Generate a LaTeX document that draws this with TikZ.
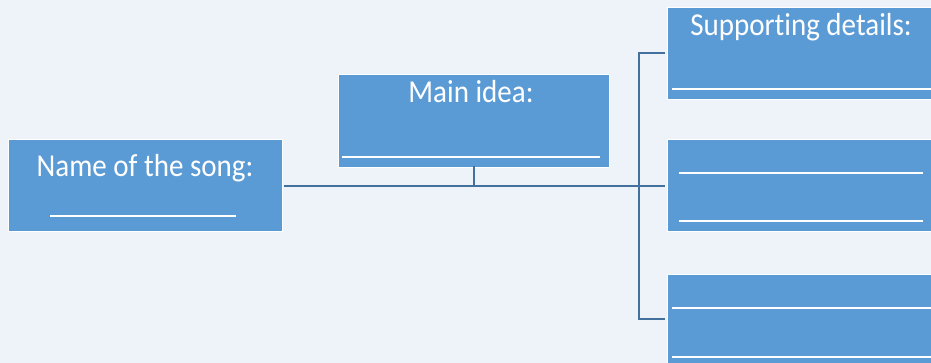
\documentclass[tikz,border=0pt]{standalone}
\usepackage{fontspec}
\setmainfont{Carlito}[Ligatures=NoCommon]
\definecolor{bg}{HTML}{EEF3FA}
\definecolor{boxblue}{HTML}{5B9BD5}
\definecolor{linkblue}{HTML}{41719C}
\begin{document}
\begin{tikzpicture}[x=1pt,y=-1pt,
  box/.style={fill=boxblue,draw=white,line width=0.8pt,inner sep=0pt,anchor=north west,minimum height=#1},
  boxtext/.style={text=white,anchor=base,font=\fontsize{29}{34}\selectfont,inner sep=0pt,yscale=1.1},
  blank/.style={draw=white,line width=1.6pt},
  link/.style={draw=linkblue,line width=2pt}]
\useasboundingbox (0,0) rectangle (931,363);
\clip (0,0) rectangle (931,363);
\fill[bg] (0,0) rectangle (931,363);
% boxes
\node[box=92pt,minimum width=274pt] (b1) at (8,139) {};
\node[box=93pt,minimum width=271pt] (b2) at (338,74) {};
\node[box=92pt,minimum width=268pt] (b3) at (667,7) {};
\node[box=92pt,minimum width=268pt] (b4) at (667,139) {};
\node[box=90pt,minimum width=268pt] (b5) at (667,274) {};
% texts
\node[boxtext] (t1) at (145,177) {Name of the song:};
\node[boxtext] (t2) at (471,103) {Main idea:};
\node[boxtext] (t3) at (801,36) {Supporting details:};
% blanks
\draw[blank] (50,216) -- (236,216);
\draw[blank] (342,157) -- (600,157);
\draw[blank] (672,89) -- (935,89);
\draw[blank] (679,173) -- (923,173);
\draw[blank] (679,221) -- (923,221);
\draw[blank] (672,308) -- (935,308);
\draw[blank] (672,357) -- (935,357);
% connectors
\coordinate (j) at (639,186);
\draw[link] ([xshift=1.5pt]b1.east |- j) -- (j) -- ([xshift=-2pt]b4.west |- j);
\draw[link] ([yshift=1.5pt]b2.south) -- (b2.south |- j);
\draw[link] ([xshift=-2pt]b3.west) -- (j |- b3.west) -- (j |- b5.west) -- ([xshift=-2pt]b5.west);
\end{tikzpicture}
\end{document}
